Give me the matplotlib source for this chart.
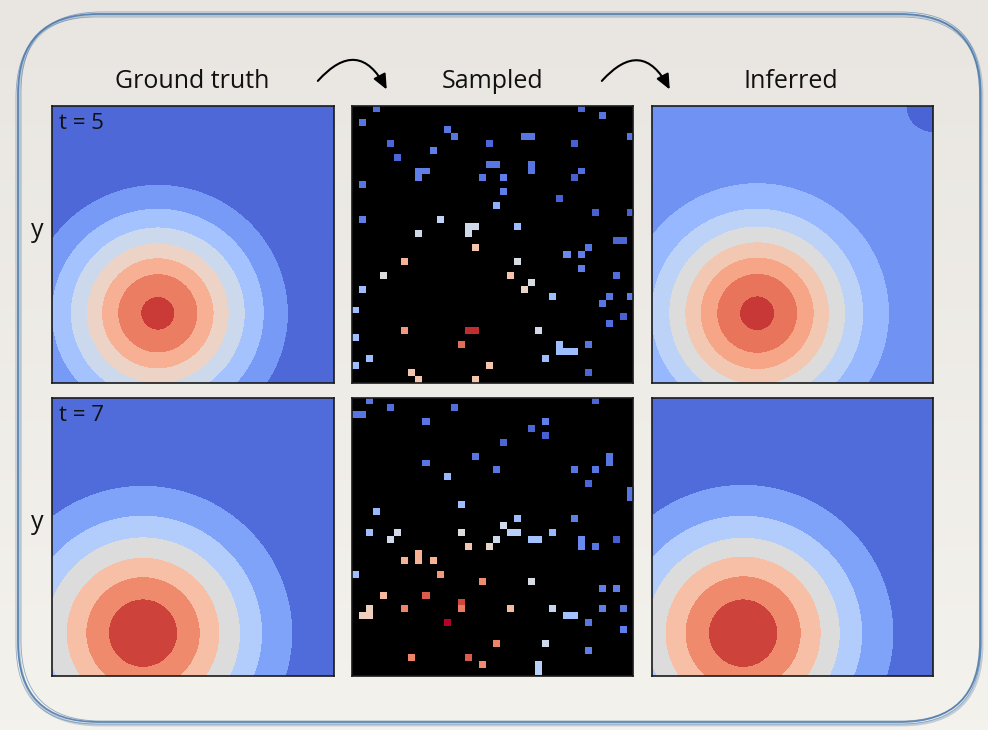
import numpy as np
import matplotlib.pyplot as plt
from matplotlib.patches import FancyBboxPatch, FancyArrowPatch

plt.rcParams['font.family'] = ['Open Sans', 'DejaVu Sans']

# Grid used for the sampled panels (cells per side)
n_cells = 40

column_titles = ['Ground truth', 'Sampled', 'Inferred']
row_labels = ['t = 5', 't = 7']

# Plume centres (grid-cell units, origin bottom-left) and contour ring radii
truth_centres = [(15.0, 10.1), (12.9, 6.1)]
inferred_centres = [(15.0, 10.1), (13.0, 6.1)]
truth_radii = [
    [2.43, 5.71, 8.0, 10.14, 12.43, 15.14, 18.57],
    [4.93, 8.14, 10.93, 13.86, 17.0, 21.29],
]
inferred_radii = [
    [2.5, 5.76, 8.1, 10.29, 12.57, 15.14, 18.81, 60.0],
    [4.93, 8.26, 11.1, 13.81, 17.0, 21.43],
]
# low-concentration patch the inferred t = 5 field puts in the top-right corner
inferred_corner = (40.0, 40.0)
inferred_corner_radius = 3.7

# Sampled sensor readings at t = 5: column, row (from top), normalised value
t5_cols = [3, 32, 35, 1, 13, 14, 24, 25, 39, 5, 19, 31, 11, 6, 19, 20, 25, 25,
           9, 10, 9, 32, 18, 21, 31, 1, 21, 29, 20, 34, 39, 1, 12, 16, 17, 16,
           23, 9, 37, 38, 17, 33, 30, 32, 7, 23, 32, 4, 22, 37, 25, 1, 24, 28,
           36, 39, 35, 0, 38, 36, 7, 16, 17, 26, 0, 15, 33, 29, 29, 30, 31, 2,
           27, 0, 19, 8, 33, 9, 17]
t5_rows = [0, 0, 1, 2, 3, 4, 4, 4, 4, 5, 5, 5, 6, 7, 8, 8, 8, 9,
           9, 9, 10, 9, 10, 10, 10, 11, 12, 13, 14, 15, 15, 16, 16, 17, 17, 18,
           17, 18, 19, 19, 20, 20, 21, 21, 22, 22, 23, 24, 24, 24, 25, 26, 26, 27,
           27, 27, 28, 29, 30, 31, 32, 32, 32, 32, 33, 34, 34, 34, 35, 35, 35, 36,
           36, 37, 37, 38, 38, 39, 39]
t5_vals = [0.08, 0.06, 0.10, 0.10, 0.10, 0.10, 0.10, 0.10, 0.10, 0.06, 0.06, 0.05,
           0.12, 0.06, 0.10, 0.10, 0.10, 0.10, 0.12, 0.12, 0.12, 0.08, 0.10, 0.12,
           0.05, 0.10, 0.12, 0.05, 0.25, 0.05, 0.05, 0.12, 0.40, 0.45, 0.45, 0.45,
           0.30, 0.45, 0.06, 0.06, 0.62, 0.10, 0.15, 0.12, 0.68, 0.48, 0.12, 0.50,
           0.62, 0.08, 0.48, 0.30, 0.55, 0.30, 0.10, 0.12, 0.10, 0.30, 0.05, 0.08,
           0.75, 0.96, 0.96, 0.45, 0.30, 0.85, 0.10, 0.30, 0.30, 0.30, 0.30, 0.30,
           0.30, 0.30, 0.62, 0.62, 0.06, 0.62, 0.62]

# Sampled sensor readings at t = 7
t7_cols = [2, 34, 0, 1, 5, 14, 10, 27, 25, 27, 21, 17, 36, 36, 10, 20, 31, 34,
           13, 33, 39, 39, 15, 3, 23, 31, 21, 2, 6, 15, 22, 23, 28, 5, 20, 25,
           26, 32, 32, 37, 34, 16, 19, 7, 9, 9, 11, 12, 0, 18, 25, 4, 10, 35,
           37, 2, 2, 1, 15, 15, 7, 22, 28, 30, 31, 35, 38, 13, 33, 38, 20, 27,
           33, 8, 16, 18, 26, 26]
t7_rows = [0, 0, 2, 2, 1, 1, 3, 3, 4, 5, 6, 8, 8, 9, 9, 10, 10, 10,
           11, 12, 13, 14, 15, 16, 17, 17, 18, 19, 19, 19, 19, 19, 19, 20, 20, 20,
           20, 20, 21, 20, 21, 21, 21, 23, 22, 23, 23, 25, 25, 26, 26, 28, 28, 27,
           27, 30, 31, 31, 29, 30, 30, 30, 30, 31, 31, 30, 30, 32, 32, 33, 35, 35,
           36, 37, 37, 38, 38, 39]
t7_vals = [0.10, 0.06, 0.10, 0.10, 0.08, 0.08, 0.10, 0.12, 0.06, 0.05, 0.06, 0.10,
           0.10, 0.10, 0.10, 0.10, 0.10, 0.10, 0.28, 0.06, 0.10, 0.10, 0.30, 0.28,
           0.30, 0.12, 0.45, 0.30, 0.45, 0.50, 0.38, 0.38, 0.28, 0.45, 0.45, 0.32,
           0.32, 0.15, 0.15, 0.04, 0.10, 0.62, 0.55, 0.68, 0.68, 0.68, 0.68, 0.75,
           0.30, 0.78, 0.48, 0.66, 0.88, 0.12, 0.12, 0.58, 0.58, 0.58, 0.92, 0.82,
           0.80, 0.66, 0.42, 0.32, 0.32, 0.12, 0.10, 1.00, 0.10, 0.12, 0.80, 0.45,
           0.12, 0.80, 0.88, 0.78, 0.38, 0.38]

samples = [(t5_cols, t5_rows, t5_vals), (t7_cols, t7_rows, t7_vals)]

W, H = 988, 730
fig = plt.figure(figsize=(W / 100, H / 100), dpi=100)

# Paper background with the hand-drawn frame
bg = fig.add_axes([0, 0, 1, 1], zorder=0)
bg.set_xlim(0, W)
bg.set_ylim(H, 0)
bg.axis('off')
shade = np.linspace(0, 1, 64)[:, None]
paper_top = np.array([233, 230, 225]) / 255
paper_bottom = np.array([244, 242, 236]) / 255
paper = paper_top + (paper_bottom - paper_top) * shade[..., None]
bg.imshow(paper, extent=(0, W, H, 0), aspect='auto')

# several loose strokes give the frame a sketched look
frame_color = '#4a78ab'
strokes = [(0, 0, 0, 0, 1.3, 0.85), (3, -2, -2, 1, 0.6, 0.6),
           (-2, 3, 3, -1, 0.6, 0.55), (1, 1, 1, 2, 2.0, 0.3)]
for dx, dy, dw, dh, lw, a in strokes:
    box = FancyBboxPatch((18 + dx, 14 + dy), 962 + dw, 708 + dh,
                         boxstyle='round,pad=0,rounding_size=80',
                         fill=False, ec=frame_color, lw=lw, alpha=a)
    bg.add_patch(box)

# Column titles and arrows between them
title_x = [192, 493, 791]
for x, label in zip(title_x, column_titles):
    bg.text(x, 81, label, ha='center', va='center', fontsize=18, color='#111111')
for x0, x1 in [(316, 388), (600, 671)]:
    arrow = FancyArrowPatch((x0, 83), (x1, 92), connectionstyle='arc3,rad=-0.75',
                            arrowstyle='-|>,head_length=9,head_width=4',
                            color='black', lw=1.5)
    bg.add_patch(arrow)

col_left = [52.3, 351.7, 651.7]
row_top = [105.7, 397.8]
pw, ph = 281.3, 277.7


def band_colors(n_rings):
    n = n_rings + 1
    cols = [plt.cm.coolwarm((i + 0.5) / n) for i in range(n)]
    return cols[::-1]


gx = np.linspace(0, n_cells, 500)
GX, GY = np.meshgrid(gx, gx)

for r in range(2):
    axes = []
    for c in range(3):
        ax = fig.add_axes([col_left[c] / W, 1 - (row_top[r] + ph) / H, pw / W, ph / H], zorder=2)
        ax.set_xticks([])
        ax.set_yticks([])
        for s in ax.spines.values():
            s.set_linewidth(1.2)
            s.set_color('#1a1a1a')
        axes.append(ax)

    # ground truth and inferred plumes as filled rings
    for ax, centre, radii in [(axes[0], truth_centres[r], truth_radii[r]),
                              (axes[2], inferred_centres[r], inferred_radii[r])]:
        dist = np.hypot(GX - centre[0], GY - centre[1])
        levels = [0] + radii + [200]
        ax.contourf(GX, GY, dist, levels=levels, colors=band_colors(len(radii)))
        ax.set_xlim(0, n_cells)
        ax.set_ylim(0, n_cells)

    if r == 0:
        corner_dist = np.hypot(GX - inferred_corner[0], GY - inferred_corner[1])
        axes[2].contourf(GX, GY, corner_dist, levels=[0, inferred_corner_radius],
                         colors=[band_colors(len(inferred_radii[0]))[-1]])

    # sparse samples on a black background
    cols_s, rows_s, vals_s = samples[r]
    grid = np.full((n_cells, n_cells), np.nan)
    grid[rows_s, cols_s] = vals_s
    ax = axes[1]
    ax.set_facecolor('black')
    ax.imshow(grid, cmap='coolwarm', vmin=0, vmax=1, interpolation='nearest',
              extent=(0, n_cells, n_cells, 0), aspect='auto')

    axes[0].text(0.025, 0.975, row_labels[r], transform=axes[0].transAxes,
                 ha='left', va='top', fontsize=16, color='#111111')
    axes[0].set_ylabel('y', rotation=0, fontsize=18, color='#111111')
    axes[0].yaxis.set_label_coords(-0.055, 0.55)
    axes[0].yaxis.label.set_va('center')

fig.savefig('out.png', dpi=100)
